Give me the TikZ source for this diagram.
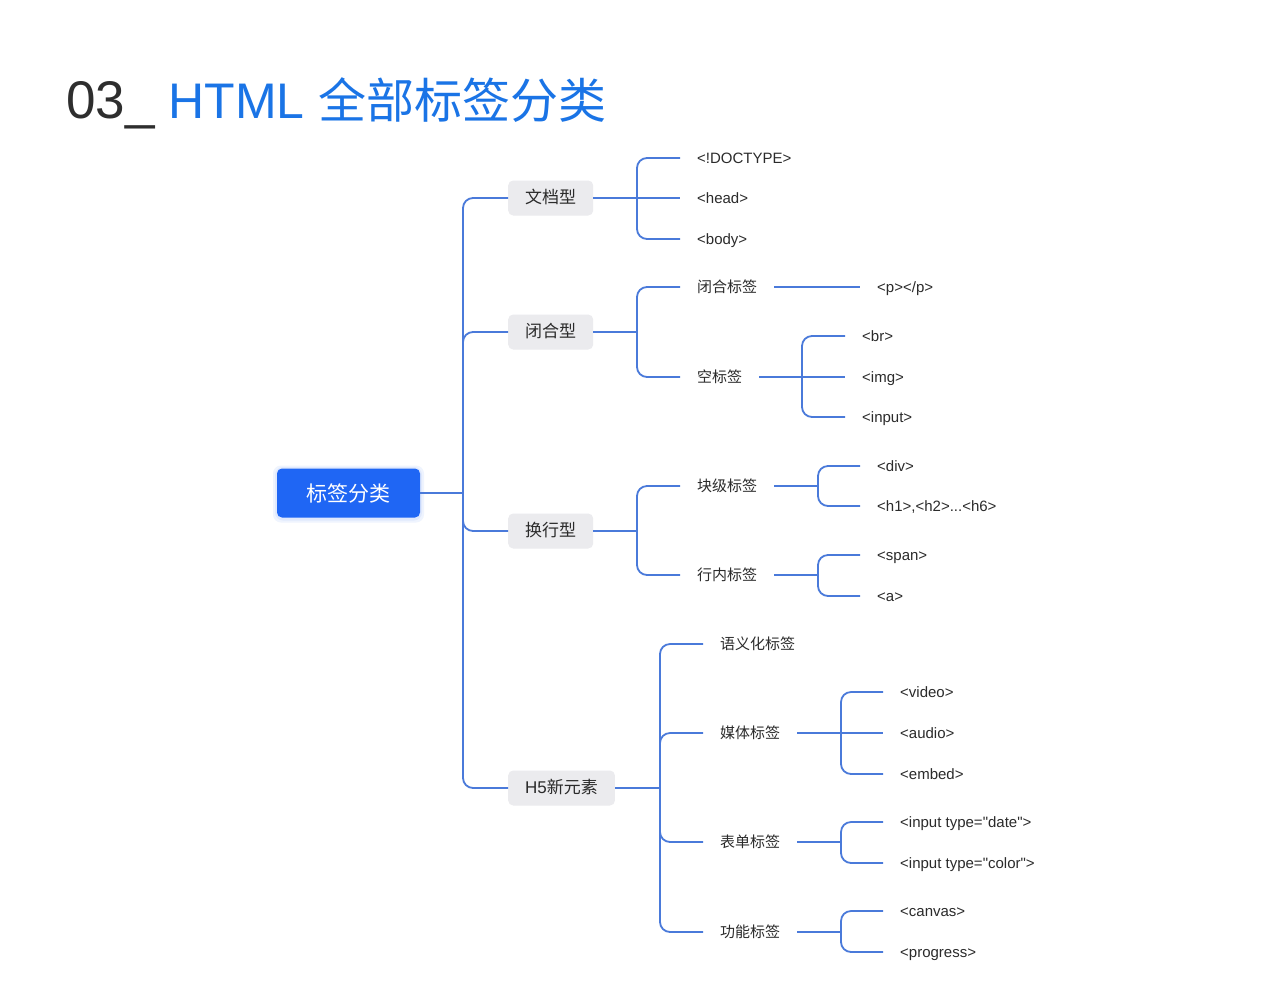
\documentclass[tikz,border=0pt]{standalone}
\usepackage{fontspec}
\setmainfont[Ligatures=TeXOff]{Liberation Sans}
\newfontfamily\cjk{Noto Sans CJK SC}
\usetikzlibrary{calc}
\definecolor{titledark}{HTML}{2E2E2E}
\definecolor{titleblue}{HTML}{1A74E6}
\definecolor{rootblue}{HTML}{1F66F4}
\definecolor{lineblue}{HTML}{4A7ADA}
\definecolor{catgrey}{HTML}{EBEBEE}
\definecolor{textdark}{HTML}{2B2B2B}
\begin{document}
\begin{tikzpicture}[x=1pt,y=-1pt,
  rootbox/.style={fill=rootblue, rounded corners=5pt, text=white,
    font=\cjk\fontsize{21}{25}\selectfont, minimum width=143pt, minimum height=49pt, inner sep=0pt},
  glow/.style={fill=rootblue, opacity=0.07, rounded corners=8pt},
  catbox/.style={fill=catgrey, rounded corners=5pt, text=textdark, anchor=west,
    font=\fontsize{17}{20}\selectfont, minimum height=35pt, inner xsep=17pt, inner ysep=0pt,
    text height=13pt, text depth=3pt},
  leaf/.style={anchor=west, inner xsep=17pt, inner ysep=2pt, text=textdark,
    font=\fontsize{15}{18}\selectfont, text height=12pt, text depth=2pt},
  conn/.style={draw=lineblue, line width=1.8pt, rounded corners=10pt},
  straight/.style={draw=lineblue, line width=1.8pt}]
\fill[white] (0,0) rectangle (1273,1005);
\useasboundingbox (0,0) rectangle (1273,1005);

% title
\node[anchor=base west, inner sep=0pt, font=\fontsize{50}{60}\selectfont] (title) at (66,118)
  {\textcolor{titledark}{\fontsize{53}{60}\selectfont 03\_} \textcolor{titleblue}{HTML {\cjk\fontsize{48}{60}\selectfont 全部标签分类}}};

% root glow and root
\fill[glow] (273,465.5) rectangle (424,522.5);
\fill[glow] (275,467) rectangle (422,520.5);
\node[rootbox] (mainnode) at (348.5,493) {标签分类};

% categories
\node[catbox] (doc) at (508,198) {\cjk 文档型};
\node[catbox] (close) at (508,332) {\cjk 闭合型};
\node[catbox] (wrap) at (508,531) {\cjk 换行型};
\node[catbox] (h5) at (508,788) {H5{\cjk 新元素}};

\coordinate (trunk) at (463,493);
\foreach \c in {doc,close,wrap,h5} { \draw[conn] (trunk) |- (\c.west); }
\draw[straight] (mainnode) -- (trunk);

% 文档型
\node[leaf] (doctype) at (680,158) {<!DOCTYPE>};
\node[leaf] (head) at (680,198) {<head>};
\node[leaf] (body) at (680,239) {<body>};
\coordinate (fd) at (637,198);
\draw[straight] (doc.east) -- (fd) -- (head.west);
\foreach \c in {doctype,body} { \draw[conn] (fd) |- (\c.west); }

% 闭合型
\node[leaf] (cl) at (680,287) {\cjk 闭合标签};
\node[leaf] (el) at (680,377) {\cjk 空标签};
\coordinate (fc) at (637,332);
\draw[straight] (close.east) -- (fc);
\foreach \c in {cl,el} { \draw[conn] (fc) |- (\c.west); }
\node[leaf] (p) at (860,287) {<p></p>};
\draw[straight] (cl.east) -- (p.west);
\node[leaf] (br) at (845,336) {<br>};
\node[leaf] (img) at (845,377) {<img>};
\node[leaf] (inp) at (845,417) {<input>};
\coordinate (fe) at (802,377);
\draw[straight] (el.east) -- (fe) -- (img.west);
\foreach \c in {br,inp} { \draw[conn] (fe) |- (\c.west); }

% 换行型
\node[leaf] (block) at (680,486) {\cjk 块级标签};
\node[leaf] (inl) at (680,575) {\cjk 行内标签};
\coordinate (fw) at (637,531);
\draw[straight] (wrap.east) -- (fw);
\foreach \c in {block,inl} { \draw[conn] (fw) |- (\c.west); }
\node[leaf] (div) at (860,466) {<div>};
\node[leaf] (hs) at (860,506) {<h1>,<h2>...<h6>};
\coordinate (fb) at (818,486);
\draw[straight] (block.east) -- (fb);
\foreach \c in {div,hs} { \draw[conn] (fb) |- (\c.west); }
\node[leaf] (span) at (860,555) {<span>};
\node[leaf] (a) at (860,596) {<a>};
\coordinate (fi) at (818,575);
\draw[straight] (inl.east) -- (fi);
\foreach \c in {span,a} { \draw[conn] (fi) |- (\c.west); }

% H5新元素
\node[leaf] (sem) at (703,644) {\cjk 语义化标签};
\node[leaf] (media) at (703,733) {\cjk 媒体标签};
\node[leaf] (form) at (703,842) {\cjk 表单标签};
\node[leaf] (func) at (703,932) {\cjk 功能标签};
\coordinate (fh) at (660,788);
\draw[straight] (h5.east) -- (fh);
\foreach \c in {sem,media,form,func} { \draw[conn] (fh) |- (\c.west); }
\node[leaf] (video) at (883,692) {<video>};
\node[leaf] (audio) at (883,733) {<audio>};
\node[leaf] (embed) at (883,774) {<embed>};
\coordinate (fm) at (841,733);
\draw[straight] (media.east) -- (fm) -- (audio.west);
\foreach \c in {video,embed} { \draw[conn] (fm) |- (\c.west); }
\node[leaf] (date) at (883,822) {<input type="date">};
\node[leaf] (color) at (883,863) {<input type="color">};
\coordinate (ff) at (841,842);
\draw[straight] (form.east) -- (ff);
\foreach \c in {date,color} { \draw[conn] (ff) |- (\c.west); }
\node[leaf] (canvas) at (883,911) {<canvas>};
\node[leaf] (progress) at (883,952) {<progress>};
\coordinate (fu) at (841,932);
\draw[straight] (func.east) -- (fu);
\foreach \c in {canvas,progress} { \draw[conn] (fu) |- (\c.west); }
\end{tikzpicture}
\end{document}
